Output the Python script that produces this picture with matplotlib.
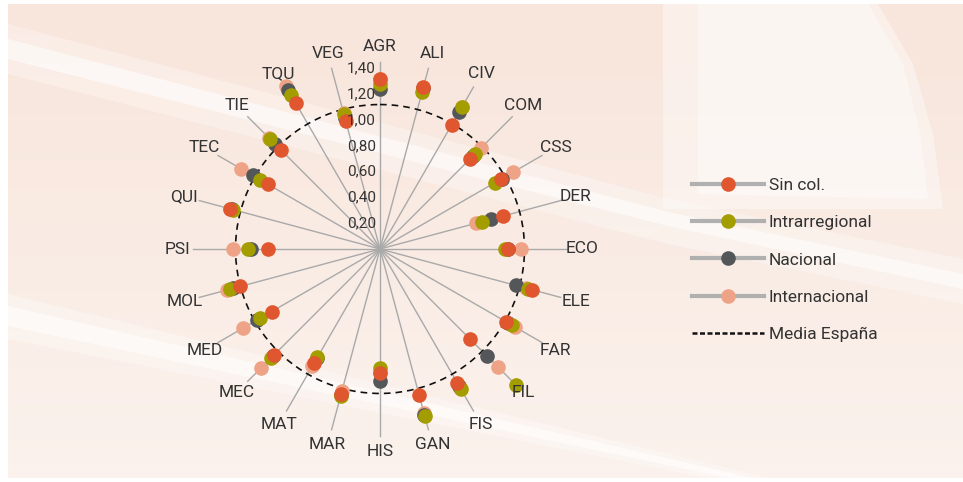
import numpy as np
import matplotlib
matplotlib.use('Agg')
import matplotlib.pyplot as plt
from matplotlib.lines import Line2D
from matplotlib.patches import Polygon
from matplotlib.transforms import offset_copy

plt.rcParams['font.family'] = ['Roboto', 'DejaVu Sans']

categories = ['AGR', 'ALI', 'CIV', 'COM', 'CSS', 'DER', 'ECO', 'ELE', 'FAR', 'FIL', 'FIS', 'GAN',
              'HIS', 'MAR', 'MAT', 'MEC', 'MED', 'MOL', 'PSI', 'QUI', 'TEC', 'TIE', 'TQU', 'VEG']

sin_col = [1.32, 1.30, 1.11, 0.99, 1.08, 0.99, 0.99, 1.22, 1.13, 0.99, 1.20, 1.17,
           0.96, 1.16, 1.02, 1.16, 0.97, 1.12, 0.87, 1.20, 1.00, 1.08, 1.31, 1.03]
intrarregional = [1.28, 1.26, 1.27, 1.04, 1.03, 0.82, 0.97, 1.19, 1.18, 1.49, 1.25, 1.34,
                  0.92, 1.18, 0.97, 1.19, 1.07, 1.20, 1.02, 1.18, 1.07, 1.21, 1.38, 1.08]
nacional = [1.24, 1.29, 1.23, 1.02, 1.09, 0.89, 0.99, 1.09, 1.15, 1.17, 1.23, 1.33,
            1.02, 1.17, 0.98, 1.17, 1.10, 1.18, 1.00, 1.19, 1.14, 1.15, 1.42, 1.05]
internacional = [1.32, 1.29, 1.27, 1.11, 1.19, 0.77, 1.09, 1.17, 1.21, 1.29, 1.24, 1.32,
                 0.95, 1.14, 1.05, 1.31, 1.23, 1.23, 1.14, 1.20, 1.24, 1.22, 1.46, 1.09]
media_espana = 1.12

r_ticks = [0.2, 0.4, 0.6, 0.8, 1.0, 1.2, 1.4]
r_tick_labels = ['0,20', '0,40', '0,60', '0,80', '1,00', '1,20', '1,40']

series = [
    ('Sin col.', sin_col, '#e0562f'),
    ('Intrarregional', intrarregional, '#a49d00'),
    ('Nacional', nacional, '#54575a'),
    ('Internacional', internacional, '#eea387'),
]
# pink at the back, red in front (as in the original)
draw_order = [3, 2, 1, 0]

fig = plt.figure(figsize=(9.63, 4.82), dpi=100, facecolor='white')

# background: soft pink photo-like panel with white streaks
bg = fig.add_axes([8 / 963, 4 / 482, 955 / 963, 474 / 482])
bg.set_xlim(0, 955)
bg.set_ylim(474, 0)
grad = np.linspace(0, 1, 64).reshape(-1, 1)
bg.imshow(grad, extent=[0, 955, 474, 0], aspect='auto', zorder=0,
          cmap=matplotlib.colors.LinearSegmentedColormap.from_list('bgc', ['#f8e5db', '#fbf2ed']))
streaks = [
    ([[0, 20], [0, 70], [660, 240], [955, 300], [955, 255], [660, 195]], 0.3),
    ([[0, 35], [0, 55], [660, 222], [955, 285], [955, 270], [660, 208]], 0.55),
    ([[0, 290], [0, 335], [700, 474], [760, 474]], 0.3),
    ([[0, 302], [0, 322], [720, 474], [745, 474]], 0.55),
    ([[655, 0], [870, 0], [905, 60], [925, 130], [935, 205], [655, 205]], 0.4),
    ([[690, 0], [860, 0], [895, 60], [912, 130], [920, 195], [690, 190]], 0.4),
]
for pts, a in streaks:
    bg.add_patch(Polygon(pts, closed=True, fc='white', ec='none', alpha=a, zorder=1))
bg.set_xticks([])
bg.set_yticks([])
for s in bg.spines.values():
    s.set_visible(False)

ax = fig.add_axes([173.6 / 963, 26.6 / 482, 412.8 / 963, 412.8 / 482], projection='polar')
ax.set_theta_zero_location('N')
ax.set_theta_direction(-1)
ax.set_ylim(0, 1.6)
ax.axis('off')

theta = np.deg2rad(np.arange(len(categories)) * 15.0)

for t in theta:
    ax.plot([t, t], [0, 1.45], color='#a9a9a9', lw=1.0, zorder=1)

circ = np.linspace(0, 2 * np.pi, 400)
ax.plot(circ, np.full_like(circ, media_espana), color='#111111', lw=1.2,
        ls=(0, (4, 3)), zorder=2)

for i in draw_order:
    name, vals, col = series[i]
    ax.plot(theta, vals, ls='none', marker='o', ms=9.5, mfc=col, mec=col,
            zorder=3, clip_on=False)

for t, cat in zip(theta, categories):
    ax.text(t, 1.57, cat, ha='center', va='center', fontsize=12.5, color='#333333')

tr = offset_copy(ax.transData, fig=fig, x=-4, y=0, units='dots')
for v, lab in zip(r_ticks, r_tick_labels):
    ax.text(0, v, lab, ha='right', va='center', fontsize=11, color='#333333', transform=tr)

handles = [Line2D([], [], color='#b0b0b0', lw=3, marker='o', ms=9.5, mfc=c, mec=c)
           for _, _, c in series]
handles.append(Line2D([], [], color='#111111', lw=1.8, ls=(0, (2, 1))))
labels = [s[0] for s in series] + ['Media España']
fig.legend(handles, labels, loc='upper left', bbox_to_anchor=(676 / 963, 1 - 162 / 482),
           frameon=False, fontsize=12.5, handlelength=4.15, labelspacing=1.28,
           handletextpad=0.3, labelcolor='#333333')

fig.savefig('out.png', dpi=100, facecolor='white')
